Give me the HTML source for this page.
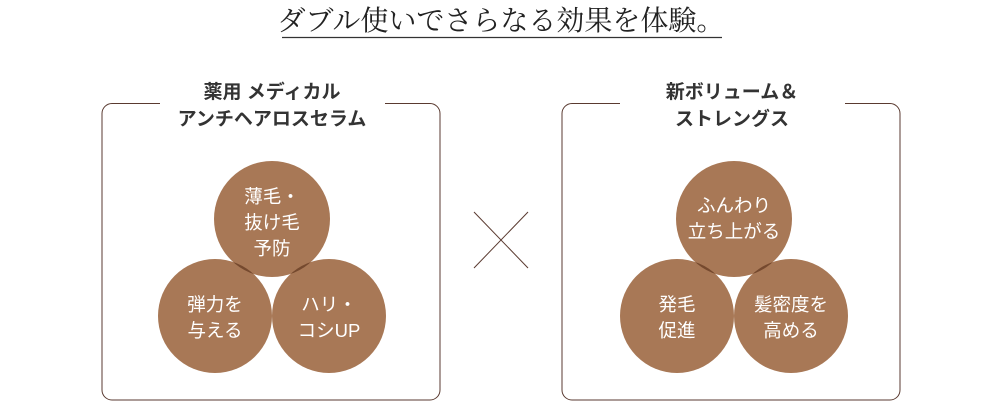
<!DOCTYPE html>
<html><head><meta charset="utf-8"><style>
body{margin:0;background:#fff;width:1000px;height:405px;overflow:hidden}
</style></head><body>
<svg width="1000" height="405" xmlns="http://www.w3.org/2000/svg" font-family="'Liberation Sans','Noto Sans CJK JP',sans-serif">
<text x="501" y="30" text-anchor="middle" font-family="'Liberation Serif','Noto Serif CJK SC',serif" font-size="28" fill="#222">ダブル使いでさらなる効果を体験。</text>
<line x1="282" y1="37.5" x2="722" y2="37.5" stroke="#333" stroke-width="1.2"/>
<path d="M160 103.5 H112 A10 10 0 0 0 102 113.5 V390 A10 10 0 0 0 112 400 H430 A10 10 0 0 0 440 390 V113.5 A10 10 0 0 0 430 103.5 H385" fill="none" stroke="#5a3a30" stroke-width="1"/>
<path d="M620 103.5 H572 A10 10 0 0 0 562 113.5 V390 A10 10 0 0 0 572 400 H890 A10 10 0 0 0 900 390 V113.5 A10 10 0 0 0 890 103.5 H845" fill="none" stroke="#5a3a30" stroke-width="1"/>
<g font-weight="bold" font-size="19" fill="#333" text-anchor="middle">
<text x="272" y="98">薬用 メディカル</text><text x="272" y="125">アンチヘアロスセラム</text>
<text x="732" y="98">新ボリューム＆</text><text x="732" y="125">ストレングス</text>
</g>
<line x1="474" y1="212" x2="528" y2="268" stroke="#5a3a30"/><line x1="528" y1="212" x2="474" y2="268" stroke="#5a3a30"/>
<g fill="#a87856">
<circle cx="272" cy="219" r="58"/><circle cx="215" cy="316" r="57"/><circle cx="329" cy="316" r="57"/>
<circle cx="734" cy="219" r="58"/><circle cx="677" cy="316" r="57"/><circle cx="791" cy="316" r="57"/>
</g>
<defs>
<clipPath id="a"><circle cx="272" cy="219" r="58"/></clipPath>
<clipPath id="b"><circle cx="734" cy="219" r="58"/></clipPath>
<clipPath id="c"><circle cx="215" cy="316" r="57"/></clipPath>
<clipPath id="d"><circle cx="677" cy="316" r="57"/></clipPath>
</defs>
<g fill="#75492e">
<circle cx="215" cy="316" r="57" clip-path="url(#a)"/><circle cx="329" cy="316" r="57" clip-path="url(#a)"/>
<circle cx="677" cy="316" r="57" clip-path="url(#b)"/><circle cx="791" cy="316" r="57" clip-path="url(#b)"/>
<circle cx="329" cy="316" r="57" clip-path="url(#c)"/><circle cx="791" cy="316" r="57" clip-path="url(#d)"/>
</g>
<g fill="#fff" font-size="18.5" text-anchor="middle">
<text x="272" y="203">薄毛・</text><text x="272" y="229">抜け毛</text><text x="272" y="255">予防</text>
<text x="215" y="311">弾力を</text><text x="215" y="337">与える</text>
<text x="329" y="311">ハリ・</text><text x="329" y="337">コシUP</text>
<text x="734" y="212">ふんわり</text><text x="734" y="238">立ち上がる</text>
<text x="677" y="311">発毛</text><text x="677" y="337">促進</text>
<text x="791" y="311">髪密度を</text><text x="791" y="337">高める</text>
</g>
</svg>
</body></html>
